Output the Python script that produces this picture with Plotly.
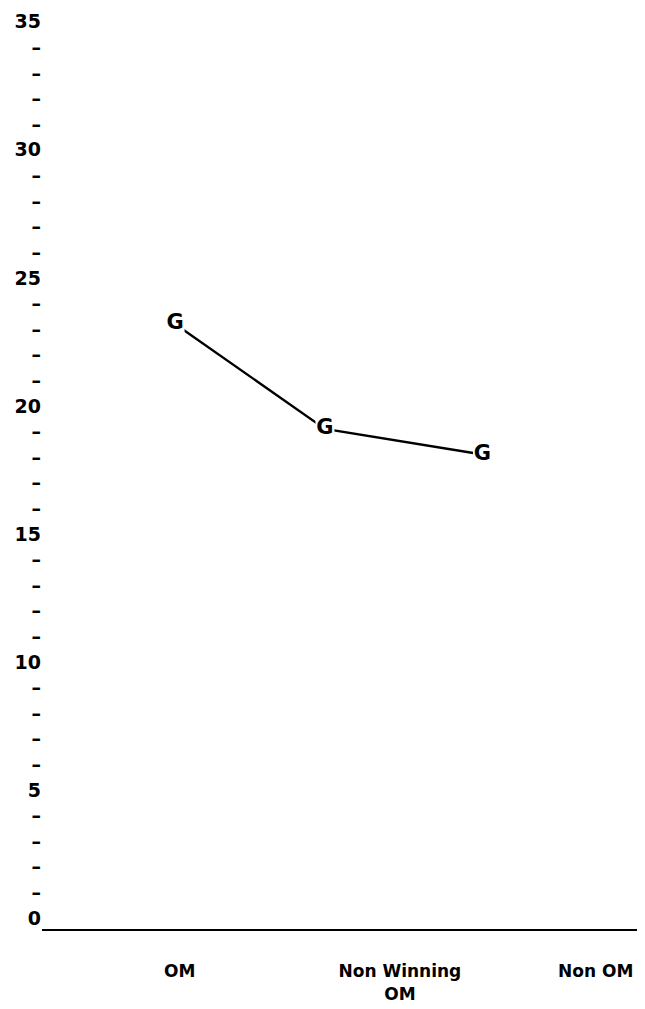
import plotly.graph_objects as go

# Data
categories = ["OM", "Non Winning<br>OM", "Non OM"]
category_positions = [1.03, 2.47, 3.75]
point_positions = [1.0, 1.98, 3.01]
values = [23.2, 19.1, 18.1]
marker_labels = ["G", "G", "G"]
y_major = [0, 5, 10, 15, 20, 25, 30, 35]

ytickvals = list(range(0, 36))
yticktext = [str(v) if v in y_major else "\u2013" for v in ytickvals]

FONT = "DejaVu Sans"

fig = go.Figure()
fig.add_trace(go.Scatter(
    x=point_positions,
    y=values,
    mode="lines+markers+text",
    line=dict(color="black", width=2.4),
    marker=dict(symbol="square", size=19, color="white", line=dict(width=0)),
    text=marker_labels,
    textposition="middle center",
    textfont=dict(family=FONT, size=21, color="black", weight="bold"),
    showlegend=False,
    hoverinfo="skip",
))

fig.update_layout(
    width=637, height=1001,
    margin=dict(l=34, r=5, t=1, b=80),
    paper_bgcolor="white", plot_bgcolor="white",
    xaxis=dict(
        range=[0.13, 4.04],
        tickvals=category_positions,
        ticktext=categories,
        showgrid=False, zeroline=False,
        showline=True, linecolor="black", linewidth=2,
        ticks="", ticklabelstandoff=26,
        automargin=False,
        tickfont=dict(family=FONT, size=17, color="black", weight="bold"),
    ),
    yaxis=dict(
        range=[-0.43, 35.5],
        tickvals=ytickvals,
        ticktext=yticktext,
        showgrid=False, zeroline=False, showline=False,
        ticks="",
        ticklabelstandoff=0,
        automargin=False,
        tickfont=dict(family=FONT, size=19, color="black", weight="bold"),
    ),
)

fig.write_html("out.html")
